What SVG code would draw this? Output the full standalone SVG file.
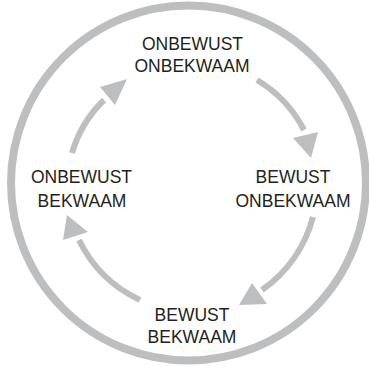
<svg xmlns="http://www.w3.org/2000/svg" width="369" height="372" viewBox="0 0 369 372">
<defs>
<style>
.lbl{font-family:"Liberation Sans",Arial,sans-serif;font-size:17.5px;fill:#231f20;text-anchor:middle}
.shaft{fill:none;stroke:#bcbec0;stroke-width:6}
.head{fill:#bcbec0}
</style>
</defs>
<rect width="369" height="372" fill="#ffffff"/>
<circle cx="188.5" cy="183" r="177.5" fill="none" stroke="#bcbec0" stroke-width="8"/>
<g id="connectors">
<path class="shaft" d="M257,80 A125,125 0 0 1 304,130"/>
<polygon class="head" points="311,158 293,138 318,132"/>
<path class="shaft" d="M313,217 A130,130 0 0 1 262,290"/>
<polygon class="head" points="239,305 252,283 267,304"/>
<path class="shaft" d="M140,300 A128,128 0 0 1 79,240"/>
<polygon class="head" points="67,215 63,240 88,232"/>
<path class="shaft" d="M72,153 A122,122 0 0 1 104,100"/>
<polygon class="head" points="127,79 100,87 115,105"/>
</g>
<g id="node-onbewust-onbekwaam">
<text class="lbl" x="192.5" y="50">ONBEWUST</text>
<text class="lbl" x="192" y="72">ONBEKWAAM</text>
</g>
<g id="node-bewust-onbekwaam">
<text class="lbl" x="293" y="183">BEWUST</text>
<text class="lbl" x="293" y="207">ONBEKWAAM</text>
</g>
<g id="node-bewust-bekwaam">
<text class="lbl" x="192" y="321">BEWUST</text>
<text class="lbl" x="192" y="343">BEKWAAM</text>
</g>
<g id="node-onbewust-bekwaam">
<text class="lbl" x="81.5" y="183">ONBEWUST</text>
<text class="lbl" x="82" y="207">BEKWAAM</text>
</g>
</svg>
